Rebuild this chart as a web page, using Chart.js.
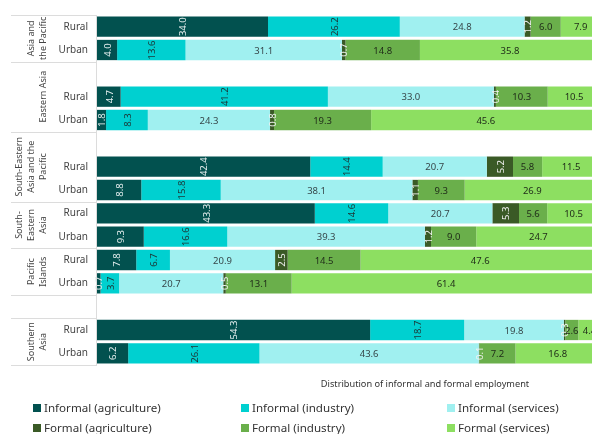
<!DOCTYPE html>
<html>
<head>
<meta charset="utf-8">
<script src="https://cdn.jsdelivr.net/npm/chart.js@4.4.1/dist/chart.umd.min.js"></script>
<style>
  html, body { margin: 0; padding: 0; background: #fff; overflow: hidden; }
  #wrap { position: relative; width: 600px; height: 434px; }
  .leg { position: absolute; font: 11.6px "Noto Sans", sans-serif; color: #333; white-space: nowrap; line-height: 16px; }
  .leg span.box { display: inline-block; width: 8px; height: 8px; margin-right: 3px; vertical-align: 0px; }
  #xtitle { position: absolute; left: 0; top: 377px; width: 850px; text-align: center; font: 9.2px "Noto Sans", sans-serif; color: #333; }
</style>
</head>
<body>
<div id="wrap">
  <canvas id="grafico"></canvas>
  <div id="xtitle">Distribution of informal and formal employment</div>
</div>
<script>
const categorias = ["Rural", "Urban", "", "Rural", "Urban", "", "Rural", "Urban", "Rural", "Urban", "Rural", "Urban", "", "Rural", "Urban"];

const regioes = [
  ["Asia and", "the Pacific"],
  ["Eastern Asia"],
  ["South-Eastern", "Asia and the", "Pacific"],
  ["South-", "Eastern", "Asia"],
  ["Pacific", "Islands"],
  [],
  ["Southern", "Asia"]
];
// first and last slot of each group
const regioesFaixa = [[0, 1], [2, 4], [5, 7], [8, 9], [10, 11], [12, 12], [13, 14]];

const informalAgri = [34.0, 4.0, null, 4.7, 1.8, null, 42.4, 8.8, 43.3, 9.3, 7.8, 0.7, null, 54.3, 6.2];
const informalInd = [26.2, 13.6, null, 41.2, 8.3, null, 14.4, 15.8, 14.6, 16.6, 6.7, 3.7, null, 18.7, 26.1];
const informalServ = [24.8, 31.1, null, 33.0, 24.3, null, 20.7, 38.1, 20.7, 39.3, 20.9, 20.7, null, 19.8, 43.6];
const formalAgri = [1.2, 0.7, null, 0.4, 0.8, null, 5.2, 1.1, 5.3, 1.2, 2.5, 0.5, null, 0.3, 0.1];
const formalInd = [6.0, 14.8, null, 10.3, 19.3, null, 5.8, 9.3, 5.6, 9.0, 14.5, 13.1, null, 2.6, 7.2];
const formalServ = [7.9, 35.8, null, 10.5, 45.6, null, 11.5, 26.9, 10.5, 24.7, 47.6, 61.4, null, 4.4, 16.8];

const series = [
  { nome: "Informal (agriculture)", dados: informalAgri, cor: "#02514f", texto: "#e6efef", girar: true },
  { nome: "Informal (industry)", dados: informalInd, cor: "#00d0d0", texto: "#1c3535", girar: true },
  { nome: "Informal (services)", dados: informalServ, cor: "#a0f0f0", texto: "#37474a", girar: false },
  { nome: "Formal (agriculture)", dados: formalAgri, cor: "#3a5a26", texto: "#f2f2f2", girar: true },
  { nome: "Formal (industry)", dados: formalInd, cor: "#6aaf4b", texto: "#1e2a18", girar: false },
  { nome: "Formal (services)", dados: formalServ, cor: "#8ddf61", texto: "#1e2a18", girar: false }
];

const FONTE = '"Noto Sans", sans-serif';

const rotulosPlugin = {
  id: "rotulos",
  afterDatasetsDraw(chart) {
    const ctx = chart.ctx;
    ctx.save();
    ctx.font = "9.5px " + FONTE;
    ctx.textAlign = "center";
    ctx.textBaseline = "middle";
    chart.data.datasets.forEach((ds, i) => {
      const s = series[i];
      chart.getDatasetMeta(i).data.forEach((bar, j) => {
        const v = ds.data[j];
        if (v === null) return;
        const cx = (bar.x + bar.base) / 2;
        ctx.fillStyle = s.texto;
        if (s.girar) {
          ctx.save();
          ctx.translate(cx, bar.y);
          ctx.rotate(-Math.PI / 2);
          ctx.fillText(v.toFixed(1), 0, 1);
          ctx.restore();
        } else {
          ctx.fillText(v.toFixed(1), cx, bar.y + 1);
        }
      });
    });
    ctx.restore();
  }
};

const lateralPlugin = {
  id: "lateral",
  afterDraw(chart) {
    const ctx = chart.ctx;
    const y = chart.scales.y;
    const area = chart.chartArea;
    const passo = y.getPixelForValue(1) - y.getPixelForValue(0);
    const topo = (i) => y.getPixelForValue(i) - passo / 2;
    const fundo = (i) => y.getPixelForValue(i) + passo / 2;

    ctx.save();
    ctx.strokeStyle = "#dcdcdc";
    ctx.lineWidth = 1;
    const linhas = [topo(0)].concat(regioesFaixa.map((f) => fundo(f[1])));
    linhas.forEach((ly) => {
      const py = Math.round(ly) + 0.5;
      ctx.beginPath();
      ctx.moveTo(11, py);
      ctx.lineTo(area.left, py);
      ctx.stroke();
    });
    ctx.beginPath();
    ctx.moveTo(area.left - 0.5, Math.round(topo(0)));
    ctx.lineTo(area.left - 0.5, Math.round(fundo(categorias.length - 1)) + 1);
    ctx.stroke();

    ctx.fillStyle = "#444";
    ctx.font = "9px " + FONTE;
    ctx.textAlign = "center";
    ctx.textBaseline = "middle";
    regioes.forEach((linhasTxt, g) => {
      if (!linhasTxt.length) return;
      const f = regioesFaixa[g];
      const cy = (topo(f[0]) + fundo(f[1])) / 2;
      const n = linhasTxt.length;
      ctx.save();
      ctx.translate(43, cy);
      ctx.rotate(-Math.PI / 2);
      linhasTxt.forEach((t, k) => {
        ctx.fillText(t, 0, (k - (n - 1)) * 12);
      });
      ctx.restore();
    });
    ctx.restore();
  }
};

const chart = new Chart(document.getElementById("grafico"), {
  type: "bar",
  data: {
    labels: categorias,
    datasets: series.map((s) => ({
      label: s.nome,
      data: s.dados,
      backgroundColor: s.cor,
      borderWidth: 0,
      categoryPercentage: 1,
      barPercentage: 0.87
    }))
  },
  options: {
    indexAxis: "y",
    responsive: true,
    maintainAspectRatio: false,
    animation: false,
    layout: { padding: { top: 12, bottom: 69, left: 0, right: 0 } },
    plugins: {
      legend: { display: false },
      tooltip: { enabled: false }
    },
    scales: {
      x: {
        stacked: true,
        min: 0,
        max: 100,
        display: false
      },
      y: {
        stacked: true,
        grid: { display: false, drawTicks: false },
        border: { display: false },
        afterFit: (scale) => { scale.width = 97; },
        ticks: {
          autoSkip: false,
          padding: 9,
          color: "#444",
          font: { family: FONTE, size: 10 }
        }
      }
    }
  },
  plugins: [rotulosPlugin, lateralPlugin]
});

// legenda em html, 3 colunas
const wrap = document.getElementById("wrap");
const colX = [33, 241, 447];
const linhaY = [400, 420];
series.forEach((s, i) => {
  const d = document.createElement("div");
  d.className = "leg";
  d.style.left = colX[i % 3] + "px";
  d.style.top = linhaY[Math.floor(i / 3)] + "px";
  const box = document.createElement("span");
  box.className = "box";
  box.style.background = s.cor;
  d.appendChild(box);
  d.appendChild(document.createTextNode(s.nome));
  wrap.appendChild(d);
});
</script>
</body>
</html>
